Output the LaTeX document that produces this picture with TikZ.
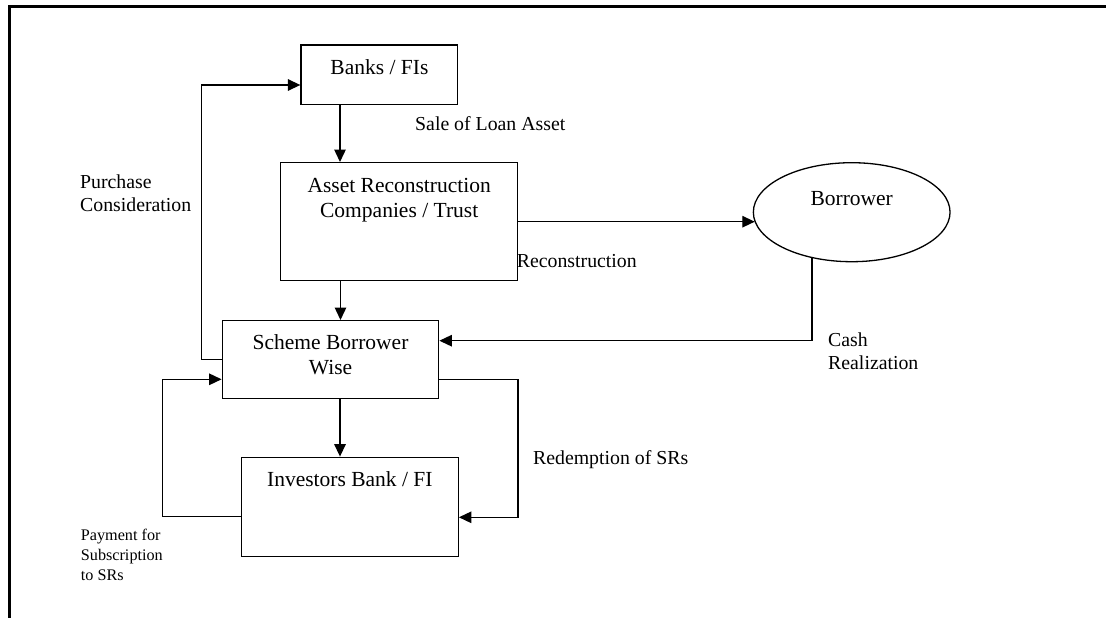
\documentclass[tikz,border=0pt]{standalone}
\usepackage{fontspec}
\setmainfont{Liberation Serif}
\usetikzlibrary{arrows.meta,positioning,shapes.geometric,calc}

\begin{document}
\begin{tikzpicture}[
  x=1pt, y=-1pt,
  box/.style={draw, rectangle, line width=1.4pt, inner sep=0pt},
  ell/.style={draw, ellipse, line width=1.3pt, inner sep=0pt},
  title/.style={inner sep=0pt, align=center, anchor=base, font=\fontsize{21.5}{25}\selectfont},
  lbl/.style={inner sep=0pt, align=left, anchor=base west, font=\fontsize{19.8}{23}\selectfont},
  smalllbl/.style={inner sep=0pt, align=left, anchor=base west, font=\fontsize{16.2}{20}\selectfont},
  >={Triangle[length=12.5pt, width=11.5pt]},
  arrline/.style={->, line width=1.4pt},
]
\useasboundingbox (0,0) rectangle (1106,618);
\draw[line width=2.6pt] (9.3,618) -- (9.3,6.3) -- (1106,6.3);
\node[box, minimum width=156.7pt, minimum height=59.3pt] (banks) at (379.4,74.7) {};
\node[title] (banksT) at (379.4,74.3) {Banks / FIs};
\node[box, minimum width=237pt, minimum height=118pt] (arc) at (399.2,221.7) {};
\node[title] (arcT) at (399.2,217.7) {Asset Reconstruction\\Companies / Trust};
\node[ell, minimum width=196.7pt, minimum height=99pt] (borrower) at (851.7,212.2) {};
\node[title] (borrowerT) at (851.7,205) {Borrower};
\node[box, minimum width=216.4pt, minimum height=78pt] (scheme) at (330.5,359.7) {};
\node[title] (schemeT) at (330.5,374) {Scheme Borrower\\Wise};
\node[box, minimum width=216.8pt, minimum height=99pt] (inv) at (349.8,506.8) {};
\node[title] (invT) at (349.8,486.7) {Investors Bank / FI};
\node[lbl] (saleL) at (415,130.7) {Sale of Loan Asset};
\node[lbl] (purchL) at (80,211.7) {Purchase\\Consideration};
\node[lbl] (reconL) at (516.7,267.7) {Reconstruction};
\node[lbl] (cashL) at (828,369.3) {Cash\\Realization};
\node[lbl] (redL) at (532.9,464.3) {Redemption of SRs};
\node[smalllbl] (payL) at (80.7,580.7) {Payment for\\Subscription\\to SRs};
\draw[arrline] ([xshift=-39.4pt]banks.south) -- ([xshift=-59.2pt]arc.north);
\draw[arrline] ([xshift=-58.7pt]arc.south) -- ([xshift=10pt]scheme.north);
\draw[arrline] ([xshift=9.5pt]scheme.south) -- ([xshift=-9.8pt]inv.north);
\draw[arrline] (arc.east) -- (arc.east -| borrower.186);
\draw[arrline] (borrower.229) |- ([yshift=19pt]scheme.east);
\draw[arrline] (scheme.west) -- ++(-20,0) |- ([yshift=-10.3pt]banks.west);
\draw[arrline] ([yshift=-9.9pt]inv.west) -- ++(-78.1,0) |- ([yshift=-19.6pt]scheme.west);
\draw[arrline] ([yshift=-19.6pt]scheme.east) -- ++(78.4,0) |- ([yshift=-10.5pt]inv.east);
\end{tikzpicture}
\end{document}
